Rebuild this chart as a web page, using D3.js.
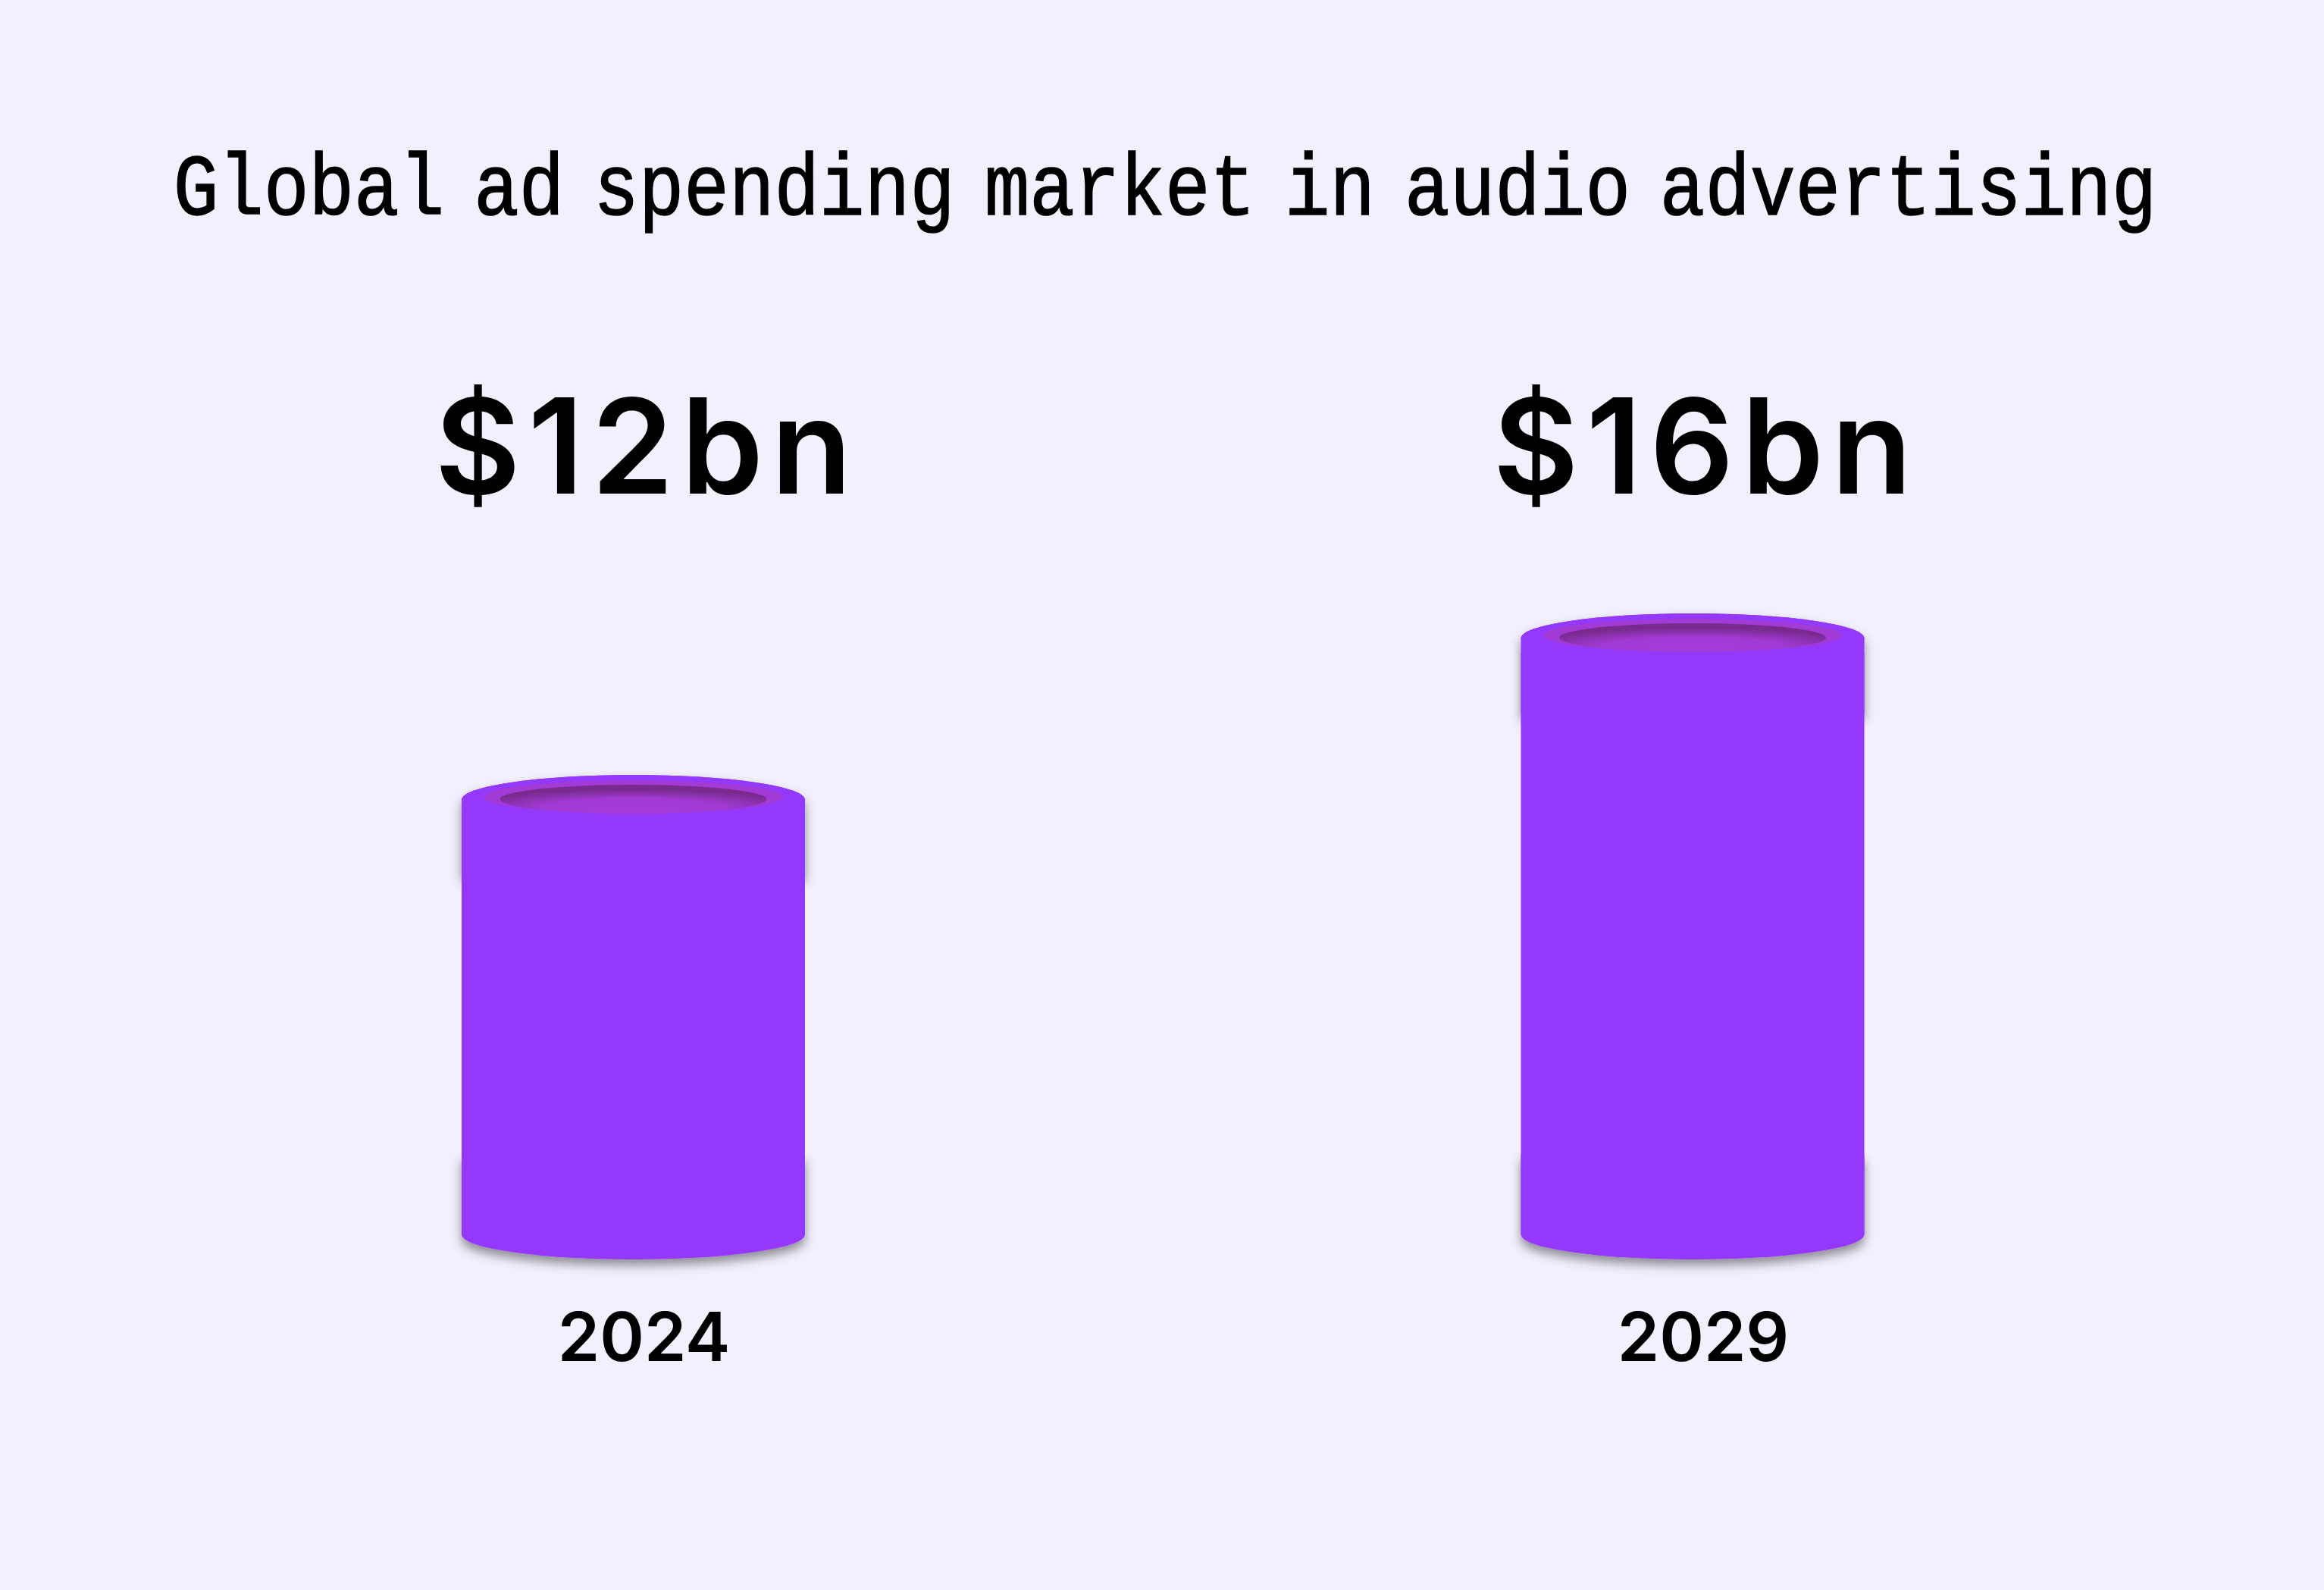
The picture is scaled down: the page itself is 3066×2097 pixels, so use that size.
<!DOCTYPE html>
<html>
<head>
<meta charset="utf-8">
<script src="https://cdn.jsdelivr.net/npm/d3@7/dist/d3.min.js"></script>
<style>
  html, body { margin: 0; padding: 0; background: #f3f0fd; }
  svg { display: block; }
</style>
</head>
<body>
<script>
// ---- data ----
const titleText = "Global ad spending market in audio advertising";
const categories = ["2024", "2029"];
const values = [12, 16];
const valueLabels = ["$12bn", "$16bn"];

// ---- layout ----
const W = 3066, H = 2097;
const baseY = 1628;          // bottom of cylinder sides
const cylW = 453;
const rx = cylW / 2, ry = 33;

const svg = d3.select("body").append("svg")
  .attr("width", W).attr("height", H)
  .attr("viewBox", `0 0 ${W} ${H}`);

svg.append("rect").attr("width", W).attr("height", H).attr("fill", "#f3f0fd");

const defs = svg.append("defs");
const f = defs.append("filter").attr("id", "shadow")
  .attr("x", "-10%").attr("y", "-30%").attr("width", "120%").attr("height", "170%");
f.append("feDropShadow").attr("dx", 0).attr("dy", 8).attr("stdDeviation", 7)
  .attr("flood-color", "#000").attr("flood-opacity", 0.42);

const rg = defs.append("radialGradient").attr("id", "hole")
  .attr("cx", "50%").attr("cy", "78%").attr("r", "62%").attr("fx", "50%").attr("fy", "85%");
rg.append("stop").attr("offset", "0%").attr("stop-color", "#a63cd9");
rg.append("stop").attr("offset", "55%").attr("stop-color", "#a03ad3");
rg.append("stop").attr("offset", "100%").attr("stop-color", "#782a8d");

// ---- scales ----
const x = d3.scalePoint().domain(categories).range([835.5, 2233]);
const y = d3.scaleLinear().domain([0, 16]).range([1694, 842]);

const data = categories.map((c, i) => ({ cat: c, value: values[i], label: valueLabels[i] }));

// ---- title ----
svg.append("g")
  .attr("transform", "translate(1537,283) scale(0.8635,1)")
  .append("text")
  .attr("x", 0).attr("y", 0)
  .attr("text-anchor", "middle")
  .attr("font-family", "'Liberation Mono', 'DejaVu Sans Mono', monospace")
  .attr("font-size", 115)
  .attr("word-spacing", -24)
  .attr("fill", "#000")
  .attr("stroke", "#000")
  .attr("stroke-width", 1.6)
  .text(titleText);

// ---- cylinders ----
const g = svg.selectAll("g.cyl").data(data).join("g").attr("class", "cyl");

// bottom piece with shadow
g.append("path")
  .attr("fill", "#9439fb")
  .attr("filter", "url(#shadow)")
  .attr("d", d => {
    const cx = x(d.cat);
    return `M${cx - rx},${baseY - 105} L${cx + rx},${baseY - 105} L${cx + rx},${baseY} A${rx},${ry} 0 0 1 ${cx - rx},${baseY} Z`;
  });

// top piece with shadow
g.append("path")
  .attr("fill", "#9439fb")
  .attr("filter", "url(#shadow)")
  .attr("d", d => {
    const cx = x(d.cat), t = y(d.value);
    return `M${cx - rx},${t} A${rx},${ry} 0 0 1 ${cx + rx},${t} L${cx + rx},${t + 100} L${cx - rx},${t + 100} Z`;
  });

// body without shadow
g.append("rect")
  .attr("fill", "#9439fb")
  .attr("x", d => x(d.cat) - rx)
  .attr("y", d => y(d.value) + 20)
  .attr("width", cylW)
  .attr("height", d => baseY - y(d.value) - 20);

// top ellipse again (clean)
g.append("ellipse")
  .attr("fill", "#9439fb")
  .attr("cx", d => x(d.cat)).attr("cy", d => y(d.value))
  .attr("rx", rx).attr("ry", ry);

// ring
g.append("ellipse")
  .attr("fill", "#a23ad6")
  .attr("cx", d => x(d.cat)).attr("cy", d => y(d.value) - 4)
  .attr("rx", 197).attr("ry", 22);

// hole
g.append("ellipse")
  .attr("fill", "url(#hole)")
  .attr("cx", d => x(d.cat)).attr("cy", d => y(d.value) - 1)
  .attr("rx", 176).attr("ry", 19);

// ---- value labels ----
svg.selectAll("text.val").data(data).join("text")
  .attr("class", "val")
  .attr("x", d => x(d.cat) + 18).attr("y", 651)
  .attr("text-anchor", "middle")
  .attr("font-family", "Inter, 'Noto Sans', sans-serif")
  .attr("font-weight", 600)
  .attr("font-size", 174)
  .attr("letter-spacing", 10)
  .attr("fill", "#000")
  .text(d => d.label);

// ---- year labels ----
svg.selectAll("text.cat").data(data).join("text")
  .attr("class", "cat")
  .attr("x", d => x(d.cat) + 14).attr("y", 1795)
  .attr("text-anchor", "middle")
  .attr("font-family", "Inter, 'Noto Sans', sans-serif")
  .attr("font-weight", 600)
  .attr("font-size", 89)
  .attr("fill", "#000")
  .text(d => d.cat);
</script>
</body>
</html>
